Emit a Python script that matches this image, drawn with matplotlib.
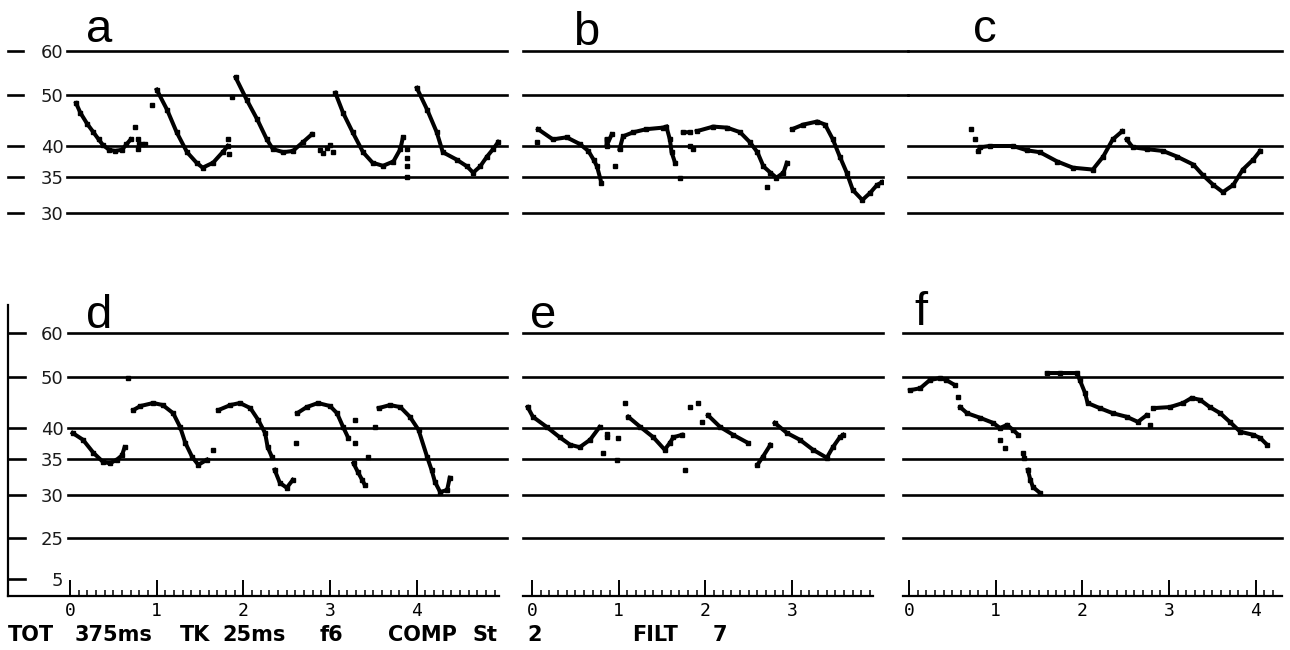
import matplotlib
matplotlib.use('Agg')
import matplotlib.pyplot as plt
import numpy as np

# grid values and where they sit (pixels above the bottom baseline)
Y_VALS = [0, 5, 25, 30, 35, 40, 50, 60, 80]
Y_POS = [0, 17, 58, 101, 137, 168, 219, 263, 351]

TOP_LINES = [60, 50, 40, 35, 30]
BOT_LINES = [60, 50, 40, 35, 30, 25]
BOT_TICKS = [60, 50, 40, 35, 30, 25, 5]

# traces: time (s), value; None breaks a trace
A_T = [0.07, 0.12, 0.2, 0.27, 0.33, 0.38, 0.45, 0.52, 0.6, 0.65, 0.7, None,
       1.0, 1.12, 1.23, 1.35, 1.46, 1.53, 1.65, 1.76, 1.82, None,
       1.91, 2.04, 2.16, 2.27, 2.34, 2.46, 2.57, 2.69, 2.79, None,
       3.06, 3.15, 3.26, 3.38, 3.49, 3.61, 3.73, 3.81, 3.84, None,
       4.0, 4.12, 4.23, 4.3, 4.46, 4.58, 4.65, 4.73, 4.81, 4.88, 4.94]
A_V = [48.4, 46.5, 44.3, 42.7, 41.3, 40.2, 39.4, 39.2, 39.4, 40.3, 41.3, None,
       51.2, 47.1, 42.7, 39.0, 37.3, 36.5, 37.3, 39.0, 40.0, None,
       54.0, 49.0, 45.2, 41.3, 39.5, 39.0, 39.2, 40.8, 42.3, None,
       50.5, 46.5, 42.7, 39.0, 37.3, 36.8, 37.5, 39.5, 41.7, None,
       51.6, 47.1, 42.7, 39.0, 37.8, 36.7, 35.7, 36.7, 38.3, 39.5, 40.8]
A_DOT_T = [0.75, 0.79, 0.79, 0.8, 0.83, 0.86, 0.95, 1.82, 1.83, 1.87,
           2.88, 2.92, 2.96, 3.0, 3.03, 3.89, 3.89, 3.89, 3.89]
A_DOT_V = [43.8, 41.3, 39.5, 40.3, 40.3, 40.4, 48.1, 41.3, 38.7, 49.6,
           39.3, 38.8, 39.6, 40.2, 39.0, 39.5, 38.0, 36.8, 35.0]

B_T = [0.07, 0.24, 0.4, 0.55, 0.65, 0.71, 0.75, 0.8, None,
       0.86, 0.86, 0.92, None,
       1.01, 1.05, 1.17, 1.32, 1.51, 1.55, 1.59, 1.61, 1.65, None,
       1.74, 1.82, None,
       1.9, 2.09, 2.25, 2.4, 2.51, 2.6, 2.67, 2.75, 2.82, 2.9, 2.94, None,
       3.0, 3.13, 3.29, 3.38, 3.47, 3.55, 3.63, 3.7, 3.81, 3.9, 3.98, 4.04]
B_V = [43.3, 41.3, 41.7, 40.4, 39.2, 37.8, 36.7, 34.2, None,
       41.3, 40.0, 42.3, None,
       39.5, 41.9, 42.7, 43.3, 43.6, 43.8, 41.3, 39.0, 37.3, None,
       42.7, 42.7, None,
       42.9, 43.8, 43.6, 42.7, 40.8, 39.0, 36.7, 35.7, 34.9, 35.7, 37.3, None,
       43.3, 44.2, 44.8, 44.2, 41.3, 38.3, 35.7, 33.2, 31.8, 32.8, 33.9, 34.3]
B_DOT_T = [0.06, 0.96, 1.71, 1.82, 1.86, 2.71]
B_DOT_V = [40.8, 36.7, 34.9, 40.0, 39.5, 33.6]

C_T = [0.8, 0.82, 0.93, 1.2, 1.36, 1.51, 1.71, 1.89, 2.12, 2.24, 2.35, 2.46, None,
       2.51, 2.58, 2.74, 2.93, 3.09, 3.28, 3.39, 3.51, 3.62, 3.74, 3.85, 3.97, 4.05]
C_V = [39.2, 39.8, 40.0, 40.0, 39.3, 39.0, 37.5, 36.5, 36.2, 38.3, 41.3, 42.9, None,
       41.3, 39.8, 39.5, 39.2, 38.3, 37.0, 35.3, 33.9, 32.9, 33.9, 36.2, 37.8, 39.2]
C_DOT_T = [0.72, 0.76]
C_DOT_V = [43.3, 41.3]

D_T = [0.03, 0.15, 0.27, 0.38, 0.46, 0.54, 0.6, 0.63, None,
       0.73, 0.81, 0.96, 1.07, 1.19, 1.27, 1.33, 1.41, 1.48, 1.58, None,
       1.71, 1.85, 1.96, 2.08, 2.17, 2.25, 2.28, 2.33, None,
       2.36, 2.42, 2.5, 2.57, None,
       2.62, 2.73, 2.86, 3.0, 3.08, 3.15, 3.21, None,
       3.27, 3.32, 3.37, 3.4, None,
       3.56, 3.69, 3.81, 3.92, 4.02, 4.12, 4.17, 4.21, 4.27, 4.35, 4.38]
D_V = [39.2, 38.1, 36.0, 34.6, 34.4, 34.9, 35.6, 36.9, None,
       43.5, 44.3, 44.9, 44.5, 42.9, 40.2, 37.6, 35.3, 34.2, 34.9, None,
       43.5, 44.5, 44.9, 43.9, 41.6, 39.2, 36.9, 35.3, None,
       33.5, 31.7, 31.0, 32.1, None,
       42.9, 44.1, 44.9, 44.3, 42.9, 40.2, 38.4, None,
       34.4, 33.2, 32.1, 31.4, None,
       43.9, 44.5, 44.1, 42.2, 39.7, 35.3, 33.5, 31.8, 30.4, 30.7, 32.4]
D_DOT_T = [0.67, 1.65, 2.61, 3.29, 3.29, 3.44, 3.52]
D_DOT_V = [49.8, 36.5, 37.6, 41.6, 37.6, 35.3, 40.2]

E_T = [-0.05, 0.01, 0.17, 0.32, 0.44, 0.55, 0.67, 0.78, None,
       1.11, 1.25, 1.4, 1.53, 1.59, 1.63, 1.73, None,
       2.03, 2.17, 2.32, 2.49, None,
       2.6, 2.66, 2.75, None,
       2.8, 2.94, 3.09, 3.24, 3.4, 3.47, 3.55, 3.59]
E_V = [44.1, 42.2, 40.2, 38.5, 37.3, 36.9, 38.1, 40.2, None,
       42.2, 40.2, 38.5, 36.5, 37.6, 38.5, 38.9, None,
       42.5, 40.2, 38.9, 37.6, None,
       34.2, 35.3, 37.3, None,
       41.0, 39.2, 38.1, 36.5, 35.2, 36.9, 38.5, 38.9]
E_DOT_T = [0.86, 0.86, 0.82, 0.98, 0.99, 1.07, 1.76, 1.82, 1.92, 1.96]
E_DOT_V = [38.5, 39.0, 36.0, 34.9, 38.4, 44.9, 33.5, 44.1, 44.9, 41.2]

F_T = [0.01, 0.13, 0.24, 0.36, 0.43, 0.53, None,
       0.59, 0.67, 0.82, 0.97, 1.05, 1.13, 1.2, 1.26, None,
       1.37, 1.4, 1.43, 1.51, None,
       1.59, 1.74, 1.94, 1.97, 2.03, 2.06, 2.2, 2.35, 2.51, 2.64, 2.74, None,
       2.82, 3.01, 3.16, 3.26, 3.36, 3.47, 3.59, 3.7, 3.82, 3.97, 4.05, 4.13]
F_V = [47.4, 47.8, 49.4, 49.8, 49.4, 48.4, None,
       44.1, 42.9, 42.0, 41.0, 40.0, 40.6, 39.7, 38.9, None,
       33.5, 32.1, 31.1, 30.3, None,
       50.9, 50.9, 50.9, 49.4, 46.9, 44.9, 43.9, 42.9, 42.2, 41.2, 42.5, None,
       43.9, 44.1, 44.9, 45.9, 45.5, 44.1, 42.9, 41.2, 39.4, 38.9, 38.4, 37.3]
F_DOT_T = [0.57, 1.05, 1.11, 1.32, 1.33, 2.78]
F_DOT_V = [46.1, 38.1, 36.8, 36.0, 35.2, 40.6]

FOOTER = [('TOT', 8), ('375ms', 75), ('TK', 180), ('25ms', 222), ('f6', 320),
          ('COMP', 388), ('St', 473), ('2', 527), ('FILT', 632), ('7', 713)]

W, H = 1290, 650
PX = 86.7  # pixels per second


def fwd(v):
    return np.interp(v, Y_VALS, Y_POS)


def inv(p):
    return np.interp(p, Y_POS, Y_VALS)


fig = plt.figure(figsize=(W / 100, H / 100), dpi=100)


def make_panel(x0, x1, ytop, ybot, zero_x, base):
    ax = fig.add_axes([x0 / W, 1 - ybot / H, (x1 - x0) / W, (ybot - ytop) / H])
    ax.set_yscale('function', functions=(fwd, inv))
    ax.set_xlim((x0 - zero_x) / PX, (x1 - zero_x) / PX)
    ax.set_ylim(inv(base - ybot), inv(base - ytop))
    for s in ax.spines.values():
        s.set_visible(False)
    ax.set_facecolor('none')
    return ax


def draw_trace(ax, t, v, dt, dv):
    t = np.array(t, dtype=float)
    v = np.array(v, dtype=float)
    ax.plot(t, v, color='black', lw=2.9, solid_joinstyle='miter', zorder=3)
    ax.plot(t, v, 's', color='black', ms=3.2, zorder=3)
    ax.plot(dt, dv, 's', color='black', ms=3.4, zorder=3)


def lines(ax, vals, xmin, xmax=1.0):
    for v in vals:
        ax.axhline(v, xmin=xmin, xmax=xmax, color='black', lw=1.9, clip_on=False, zorder=2)


# top row
top_base = 314
ax_a = make_panel(8, 507, 0, 240, 70, top_base)
ax_b = make_panel(523, 883, 0, 240, 532, top_base)
ax_c = make_panel(908, 1282, 0, 240, 909, top_base)
# bottom row
bot_base = 596
ax_d = make_panel(8, 507, 300, 596, 70, bot_base)
ax_e = make_panel(523, 883, 300, 596, 532, bot_base)
ax_f = make_panel(903, 1282, 300, 596, 909, bot_base)

lines(ax_a, TOP_LINES, 59 / 499)
lines(ax_a, TOP_LINES, 0, 15 / 499)
lines(ax_b, TOP_LINES[:2], 0, (908 - 523) / 360)
lines(ax_b, TOP_LINES[2:], 0)
lines(ax_c, TOP_LINES, 0)
lines(ax_d, BOT_LINES, 60 / 499)
lines(ax_d, BOT_TICKS, 0, 17 / 499)
lines(ax_e, BOT_LINES, 0)
lines(ax_f, BOT_LINES, 0)

for ax in [ax_a, ax_b, ax_c, ax_d, ax_e, ax_f]:
    ax.set_yticks([])
    ax.set_xticks([])

ax_a.set_yticks(TOP_LINES)
ax_d.set_yticks(BOT_TICKS)
for ax in [ax_a, ax_d]:
    ax.set_yticklabels([str(v) for v in ax.get_yticks().astype(int)])
    ax.tick_params(axis='y', length=0, pad=-40, labelsize=13, labelcolor='#1a1a1a')
    for lab in ax.get_yticklabels():
        lab.set_family('DejaVu Sans')

# time axes along the bottom
for ax, n_major, last_minor, end in [(ax_d, 5, 4.9, 4.95), (ax_e, 4, 3.9, 3.93),
                                      (ax_f, 5, 4.2, None)]:
    x_lo, x_hi = ax.get_xlim()
    ax.spines['bottom'].set_visible(True)
    ax.spines['bottom'].set_linewidth(1.6)
    ax.spines['bottom'].set_bounds(x_lo, end if end is not None else x_hi)
    ax.set_xticks(range(n_major))
    ax.set_xticks(np.arange(0, last_minor + 0.001, 0.1), minor=True)
    ax.tick_params(axis='x', which='major', direction='in', length=11.5, width=1.4,
                   pad=4.5, labelsize=13)
    ax.tick_params(axis='x', which='minor', direction='in', length=4.5, width=1.1)
    for lab in ax.get_xticklabels():
        lab.set_family('DejaVu Sans Mono')

ax_d.spines['left'].set_visible(True)
ax_d.spines['left'].set_linewidth(1.6)
ax_d.spines['left'].set_bounds(inv(0), inv(291))

draw_trace(ax_a, A_T, A_V, A_DOT_T, A_DOT_V)
draw_trace(ax_b, B_T, B_V, B_DOT_T, B_DOT_V)
draw_trace(ax_c, C_T, C_V, C_DOT_T, C_DOT_V)
draw_trace(ax_d, D_T, D_V, D_DOT_T, D_DOT_V)
draw_trace(ax_e, E_T, E_V, E_DOT_T, E_DOT_V)
draw_trace(ax_f, F_T, F_V, F_DOT_T, F_DOT_V)

# panel letters
for letter, x, y in [('a', 86, 42), ('b', 573, 45), ('c', 973, 42),
                     ('d', 86, 328), ('e', 530, 328), ('f', 914, 325)]:
    fig.text(x / W, 1 - y / H, letter, fontsize=34, family='Liberation Sans',
             va='baseline', ha='left')

for word, x in FOOTER:
    fig.text(x / W, 1 - 641 / H, word, fontsize=15, family='DejaVu Sans',
             weight='bold', va='baseline', ha='left')

fig.savefig('out.png', dpi=100)
